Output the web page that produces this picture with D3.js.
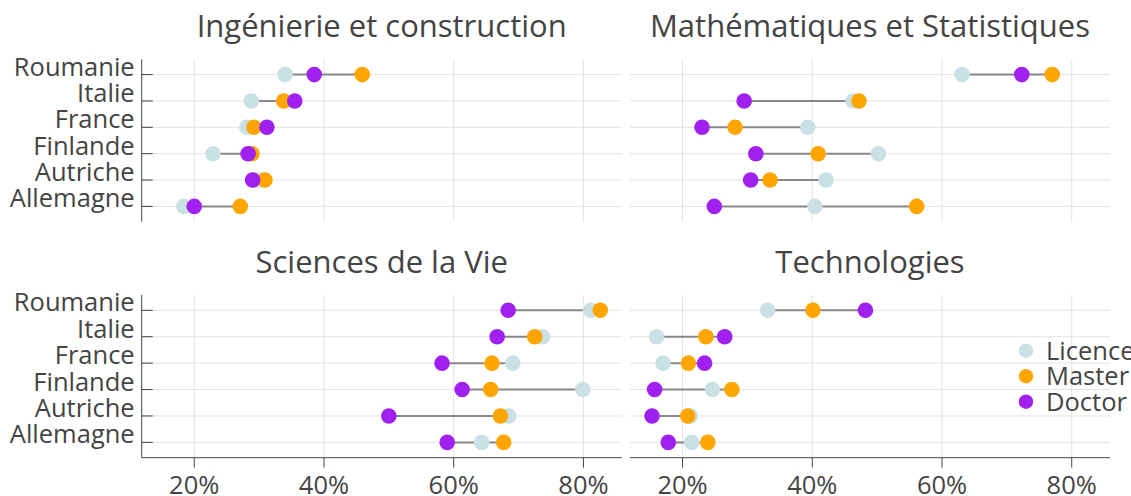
<!DOCTYPE html>
<html>
<head>
<meta charset="utf-8">
<script src="https://cdn.jsdelivr.net/npm/d3@7"></script>
<style>
  body { margin: 0; background: #fff; }
  svg { display: block; font-family: "Open Sans", sans-serif; }
</style>
</head>
<body>
<script>
const width = 1131;
const height = 496;

// donnees (en %), lignes : Roumanie -> Allemagne
const countries = ["Roumanie", "Italie", "France", "Finlande", "Autriche", "Allemagne"];
const panelTitles = ["Ingénierie et construction", "Mathématiques et Statistiques", "Sciences de la Vie", "Technologies"];
const levels = ["Licence", "Master", "Doctor"];
const levelColors = ["#c9e0e5", "#ffa500", "#a020f0"];

const licence = [
  [34.0, 28.8, 28.1, 22.9, 30.0, 18.4],
  [63.1, 46.3, 39.3, 50.2, 42.1, 40.4],
  [81.1, 73.7, 69.1, 79.9, 68.5, 64.3],
  [33.1, 16.0, 17.0, 24.6, 21.2, 21.4]
];
const master = [
  [45.9, 33.8, 29.2, 28.9, 30.9, 27.1],
  [77.0, 47.2, 28.1, 40.9, 33.5, 56.1],
  [82.6, 72.5, 65.9, 65.7, 67.2, 67.7],
  [40.1, 23.6, 20.9, 27.6, 20.8, 23.9]
];
const doctorat = [
  [38.5, 35.5, 31.2, 28.3, 29.0, 20.0],
  [72.3, 29.5, 23.0, 31.3, 30.5, 24.9],
  [68.4, 66.7, 58.2, 61.3, 50.0, 59.0],
  [48.2, 26.5, 23.4, 15.7, 15.3, 17.8]
];
const xTicks = [0.2, 0.4, 0.6, 0.8];

const cols = [[141.7, 621.7], [630, 1110]];
const rows = [[59.3, 221.7], [295, 457.7]];
const textColor = "#444";
const gridColor = "#e3e3e3";

const svg = d3.select("body").append("svg")
  .attr("width", width)
  .attr("height", height);

panelTitles.forEach((title, p) => {
  const [x0, x1] = cols[p % 2];
  const [y0, y1] = rows[Math.floor(p / 2)];
  const isLeft = p % 2 === 0;
  const isBottom = p >= 2;

  const x = d3.scaleLinear().domain([0.119, 0.859]).range([x0, x1]);
  const y = d3.scalePoint().domain(countries).range([y0, y1]).padding(0.58);

  const g = svg.append("g");

  // titre
  g.append("text")
    .attr("x", (x0 + x1) / 2)
    .attr("y", y0 - 22)
    .attr("text-anchor", "middle")
    .attr("fill", textColor)
    .style("font-size", "31px")
    .text(title);

  // grille
  g.selectAll(".vgrid").data(xTicks).enter().append("line")
    .attr("x1", d => x(d)).attr("x2", d => x(d))
    .attr("y1", y0).attr("y2", y1)
    .attr("stroke", gridColor).attr("stroke-width", 1);
  g.selectAll(".hgrid").data(countries).enter().append("line")
    .attr("x1", x0).attr("x2", x1)
    .attr("y1", d => y(d)).attr("y2", d => y(d))
    .attr("stroke", gridColor).attr("stroke-width", 1);

  // axe y (panneaux de gauche)
  if (isLeft) {
    g.append("line")
      .attr("x1", x0).attr("x2", x0)
      .attr("y1", y0).attr("y2", y1)
      .attr("stroke", textColor).attr("stroke-width", 1);
    g.selectAll(".ytick").data(countries).enter().append("line")
      .attr("x1", x0).attr("x2", x0 + 11)
      .attr("y1", d => y(d)).attr("y2", d => y(d))
      .attr("stroke", textColor).attr("stroke-width", 1);
    g.selectAll(".ylab").data(countries).enter().append("text")
      .attr("x", x0 - 7)
      .attr("y", d => y(d) + 1)
      .attr("text-anchor", "end")
      .attr("fill", textColor)
      .style("font-size", "25.5px")
      .text(d => d);
  }

  // axe x (panneaux du bas)
  if (isBottom) {
    g.append("line")
      .attr("x1", x0).attr("x2", x1)
      .attr("y1", y1).attr("y2", y1)
      .attr("stroke", textColor).attr("stroke-width", 1);
    g.selectAll(".xtick").data(xTicks).enter().append("line")
      .attr("x1", d => x(d)).attr("x2", d => x(d))
      .attr("y1", y1).attr("y2", y1 + 10)
      .attr("stroke", textColor).attr("stroke-width", 1);
    g.selectAll(".xlab").data(xTicks).enter().append("text")
      .attr("x", d => x(d))
      .attr("y", y1 + 36)
      .attr("text-anchor", "middle")
      .attr("fill", textColor)
      .style("font-size", "25.5px")
      .text(d => d3.format(".0%")(d));
  }

  const series = [licence[p], master[p], doctorat[p]];

  // segments min -> max
  g.selectAll(".seg").data(countries).enter().append("line")
    .attr("x1", (d, i) => x(d3.min(series, s => s[i]) / 100))
    .attr("x2", (d, i) => x(d3.max(series, s => s[i]) / 100))
    .attr("y1", d => y(d)).attr("y2", d => y(d))
    .attr("stroke", "#888").attr("stroke-width", 2);

  // points
  series.forEach((vals, k) => {
    g.selectAll(".pt" + k).data(vals).enter().append("circle")
      .attr("cx", v => x(v / 100))
      .attr("cy", (v, i) => y(countries[i]))
      .attr("r", 7.8)
      .attr("fill", levelColors[k]);
  });
});

// legende
const legend = svg.append("g");
levels.forEach((lv, k) => {
  const ly = 350.7 + k * 25.5;
  legend.append("circle")
    .attr("cx", 1026).attr("cy", ly).attr("r", 7.2)
    .attr("fill", levelColors[k]);
  legend.append("text")
    .attr("x", 1046).attr("y", ly + 9)
    .attr("fill", textColor)
    .style("font-size", "25.5px")
    .text(lv);
});
</script>
</body>
</html>
